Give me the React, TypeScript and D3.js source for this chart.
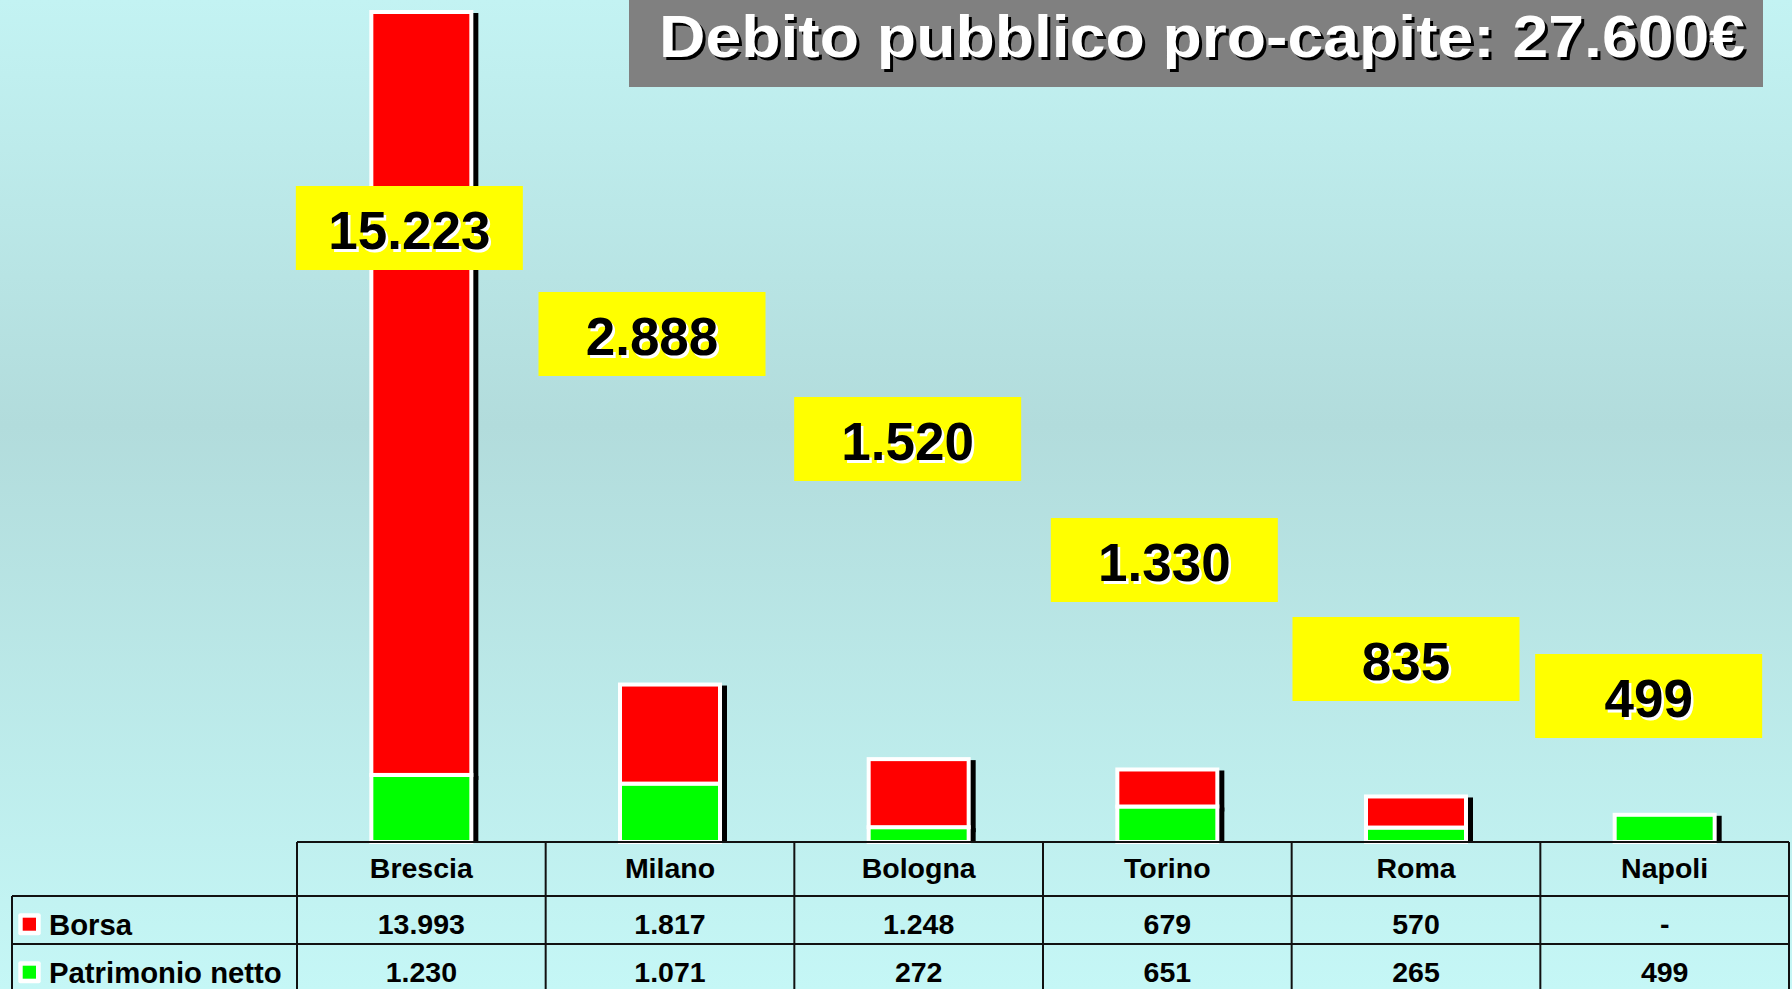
import React, { useEffect, useRef } from 'react';
import * as d3 from 'd3';

const cities = ['Brescia', 'Milano', 'Bologna', 'Torino', 'Roma', 'Napoli'];
const borsa = [13993, 1817, 1248, 679, 570, null];
const patrimonio = [1230, 1071, 272, 651, 265, 499];
const seriesKeys = ['borsa', 'patrimonio'];
const seriesNames = ['Borsa', 'Patrimonio netto'];
const seriesColors = ['#ff0000', '#00ff00'];
const title = 'Debito pubblico pro-capite: 27.600€';

// the yellow total boxes were placed by hand on the slide (centre y, x shift from column centre, px)
const labelY = [228, 334, 439, 560, 659, 696];
const labelDx = [-12, -18, -11, -3, -10, -16];

const W = 1792;
const H = 989;
const FONT = '"Liberation Sans", Arial, sans-serif';

const itLocale = d3.formatLocale({ decimal: ',', thousands: '.', grouping: [3], currency: ['', '€'] });
const fmtInt = itLocale.format(',d');
const fmt = (v) => (v == null ? '-' : fmtInt(v));

const App = () => {
  const svgRef = useRef(null);

  useEffect(() => {
    renderChart();
  }, []);

  const renderChart = () => {
    d3.select(svgRef.current).selectAll('*').remove();

    const tableTop = 842;
    const headerH = 54;
    const rowH = 48;
    const tableLeft = 297;
    const tableRight = 1789;
    const legendLeft = 12;

    const svg = d3.select(svgRef.current)
      .attr('width', W)
      .attr('height', H)
      .style('font-family', FONT);

    const defs = svg.append('defs');
    const grad = defs.append('linearGradient')
      .attr('id', 'bg')
      .attr('x1', 0).attr('y1', 0).attr('x2', 0).attr('y2', 1);
    [[0, '#c3f3f3'], [0.43, '#b2dcdc'], [1, '#c5f7f6']].forEach(([o, c]) => {
      grad.append('stop').attr('offset', o).attr('stop-color', c);
    });
    defs.append('clipPath').attr('id', 'plotClip')
      .append('rect')
      .attr('x', 0).attr('y', 0)
      .attr('width', W).attr('height', tableTop + 1);

    svg.append('rect')
      .attr('width', W)
      .attr('height', H)
      .attr('fill', 'url(#bg)');

    const rows = cities.map((c, i) => ({ city: c, borsa: borsa[i] ?? 0, patrimonio: patrimonio[i] }));
    const totals = rows.map(r => r.borsa + r.patrimonio);

    const x = d3.scaleBand()
      .domain(cities)
      .range([tableLeft, tableRight]);
    const bw = x.bandwidth();
    const barW = 100;

    const y = d3.scaleLinear()
      .domain([0, d3.max(totals)])
      .range([tableTop, 12]);

    const layers = d3.stack().keys(['patrimonio', 'borsa'])(rows);
    const segs = [];
    layers.forEach(layer => {
      const color = seriesColors[seriesKeys.indexOf(layer.key)];
      layer.forEach(d => {
        if (d[1] - d[0] <= 0) return;
        segs.push({
          x: x(d.data.city) + bw / 2 - barW / 2,
          y: y(d[1]),
          h: y(d[0]) - y(d[1]),
          color
        });
      });
    });

    // drop shadows behind the bar segments
    svg.append('g')
      .attr('clip-path', 'url(#plotClip)')
      .selectAll('rect')
      .data(segs)
      .enter()
      .append('rect')
      .attr('x', d => d.x - 2 + 5)
      .attr('y', d => d.y - 2 + 3)
      .attr('width', barW + 4)
      .attr('height', d => d.h + 4)
      .attr('fill', '#000');

    svg.append('g')
      .selectAll('rect')
      .data(segs)
      .enter()
      .append('rect')
      .attr('x', d => d.x)
      .attr('y', d => d.y)
      .attr('width', barW)
      .attr('height', d => d.h)
      .attr('fill', d => d.color)
      .attr('stroke', '#fff')
      .attr('stroke-width', 4);

    // yellow total boxes
    const labels = svg.append('g')
      .selectAll('g')
      .data(totals)
      .enter()
      .append('g')
      .attr('transform', (d, i) => `translate(${x(cities[i]) + bw / 2 + labelDx[i]},${labelY[i]})`);
    labels.append('rect')
      .attr('x', -113.5)
      .attr('y', -42)
      .attr('width', 227)
      .attr('height', 84)
      .attr('fill', '#ffff00');
    labels.append('text')
      .attr('x', 2.5)
      .attr('y', 21 + 2.5)
      .attr('text-anchor', 'middle')
      .attr('font-size', 53)
      .attr('font-weight', 'bold')
      .attr('fill', '#fff')
      .text(d => fmt(d));
    labels.append('text')
      .attr('x', 0)
      .attr('y', 21)
      .attr('text-anchor', 'middle')
      .attr('font-size', 53)
      .attr('font-weight', 'bold')
      .attr('fill', '#000')
      .text(d => fmt(d));

    // title banner
    svg.append('rect')
      .attr('x', 629)
      .attr('y', 0)
      .attr('width', 1134)
      .attr('height', 87)
      .attr('fill', '#808080');
    [['#000', 3], ['#fff', 0]].forEach(([c, off]) => {
      svg.append('text')
        .attr('x', 659 + off)
        .attr('y', 57 + off)
        .attr('font-size', 60)
        .attr('font-weight', 'bold')
        .attr('textLength', 1086)
        .attr('lengthAdjust', 'spacingAndGlyphs')
        .attr('fill', c)
        .text(title);
    });

    // data table
    const table = svg.append('g')
      .attr('stroke', '#111')
      .attr('stroke-width', 2);
    const rowTops = [tableTop + headerH, tableTop + headerH + rowH];
    const tableBottom = tableTop + headerH + rowH * 2;
    table.append('line')
      .attr('x1', tableLeft).attr('x2', tableRight)
      .attr('y1', tableTop).attr('y2', tableTop);
    [...rowTops, tableBottom].forEach(ry => {
      table.append('line')
        .attr('x1', legendLeft).attr('x2', tableRight)
        .attr('y1', ry).attr('y2', ry);
    });
    table.append('line')
      .attr('x1', legendLeft).attr('x2', legendLeft)
      .attr('y1', rowTops[0]).attr('y2', tableBottom);
    d3.range(cities.length + 1).forEach(k => {
      const lx = tableLeft + k * bw;
      table.append('line')
        .attr('x1', lx).attr('x2', lx)
        .attr('y1', tableTop).attr('y2', tableBottom);
    });

    const cellText = (g, tx, ty, s, anchor = 'middle', size = 28.5) => g.append('text')
      .attr('x', tx)
      .attr('y', ty)
      .attr('text-anchor', anchor)
      .attr('font-size', size)
      .attr('font-weight', 'bold')
      .attr('fill', '#000')
      .text(s);

    const cells = svg.append('g');
    cities.forEach((c, i) => {
      const cx = x(c) + bw / 2;
      cellText(cells, cx, tableTop + 36, c);
      cellText(cells, cx, rowTops[0] + 38, fmt(borsa[i]));
      cellText(cells, cx, rowTops[1] + 38, fmt(patrimonio[i]));
    });

    // legend keys in the table's first column
    seriesNames.forEach((name, i) => {
      const top = rowTops[i];
      cells.append('rect')
        .attr('x', 18.3)
        .attr('y', top + 17.3)
        .attr('width', 22.4)
        .attr('height', 22)
        .attr('rx', 2)
        .attr('fill', '#fff');
      cells.append('rect')
        .attr('x', 22.7)
        .attr('y', top + 21.7)
        .attr('width', 13.3)
        .attr('height', 13)
        .attr('fill', seriesColors[i]);
      cellText(cells, 49, top + 38.5, name, 'start', 29.3);
    });
  };

  return (
    <svg ref={svgRef} style={{ position: 'absolute', left: 0, top: 0, display: 'block' }}></svg>
  );
};

export default App;
